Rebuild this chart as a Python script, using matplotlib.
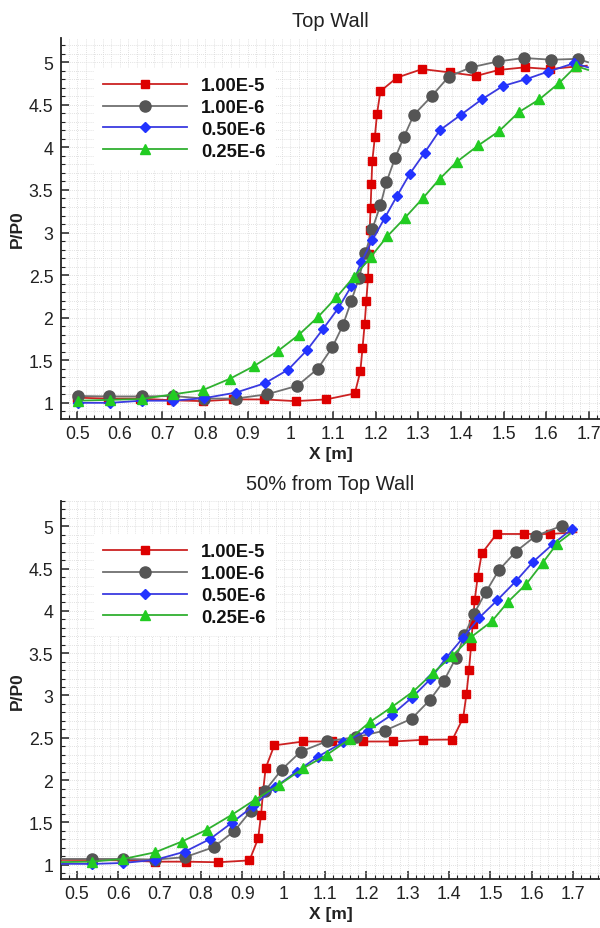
import matplotlib
matplotlib.use("Agg")
import matplotlib.pyplot as plt
from matplotlib.ticker import MultipleLocator, FormatStrFormatter

plt.rcParams['font.family'] = ['Liberation Sans', 'DejaVu Sans']

labels = ["1.00E-5", "1.00E-6", "0.50E-6", "0.25E-6"]

# ---------------- Top Wall ----------------
top_red_x = [0.500, 0.573, 0.648, 0.721, 0.795, 0.866, 0.938, 1.012, 1.084, 1.151, 1.164, 1.169,
             1.174, 1.178, 1.182, 1.184, 1.186, 1.188, 1.190, 1.192, 1.198, 1.203, 1.211, 1.250,
             1.309, 1.375, 1.436, 1.489, 1.549, 1.608, 1.670, 1.695]
top_red_y = [1.06, 1.05, 1.05, 1.03, 1.02, 1.04, 1.04, 1.02, 1.04, 1.11, 1.37, 1.64,
             1.92, 2.20, 2.47, 2.75, 3.03, 3.29, 3.57, 3.84, 4.12, 4.39, 4.66, 4.82,
             4.92, 4.88, 4.84, 4.91, 4.94, 4.92, 4.95, 4.96]

top_gray_x = [0.502, 0.575, 0.651, 0.725, 0.798, 0.872, 0.945, 1.016, 1.064, 1.098, 1.123, 1.143,
              1.161, 1.176, 1.192, 1.211, 1.225, 1.245, 1.266, 1.289, 1.331, 1.371, 1.423, 1.487,
              1.548, 1.612, 1.674, 1.698]
top_gray_y = [1.08, 1.075, 1.075, 1.08, 1.05, 1.05, 1.10, 1.20, 1.40, 1.65, 1.91, 2.20,
              2.47, 2.76, 3.04, 3.32, 3.59, 3.87, 4.12, 4.38, 4.60, 4.83, 4.94, 5.01,
              5.05, 5.03, 5.04, 5.00]

top_blue_x = [0.502, 0.577, 0.651, 0.725, 0.798, 0.872, 0.940, 0.995, 1.039, 1.077, 1.112, 1.143,
              1.166, 1.192, 1.221, 1.250, 1.280, 1.315, 1.350, 1.399, 1.449, 1.498, 1.552, 1.604,
              1.666, 1.698]
top_blue_y = [1.00, 1.00, 1.025, 1.025, 1.055, 1.12, 1.23, 1.39, 1.62, 1.87, 2.11, 2.37,
              2.65, 2.91, 3.17, 3.43, 3.69, 3.94, 4.20, 4.38, 4.565, 4.72, 4.80, 4.89,
              4.99, 4.94]

top_green_x = [0.502, 0.577, 0.651, 0.725, 0.795, 0.859, 0.914, 0.971, 1.020, 1.065, 1.108, 1.149,
               1.188, 1.227, 1.268, 1.310, 1.350, 1.390, 1.441, 1.489, 1.536, 1.584, 1.631, 1.670,
               1.698]
top_green_y = [1.025, 1.035, 1.045, 1.10, 1.15, 1.285, 1.43, 1.61, 1.80, 2.01, 2.24, 2.48,
               2.71, 2.955, 3.17, 3.40, 3.63, 3.83, 4.025, 4.19, 4.415, 4.565, 4.76, 4.955,
               4.91]

# ---------------- 50% from Top Wall ----------------
mid_red_x = [0.460, 0.535, 0.612, 0.689, 0.763, 0.842, 0.917, 0.938, 0.945, 0.950, 0.956, 0.977,
             1.047, 1.116, 1.191, 1.265, 1.337, 1.408, 1.434, 1.442, 1.448, 1.453, 1.457, 1.462,
             1.469, 1.479, 1.515, 1.581, 1.645, 1.708]
mid_red_y = [1.056, 1.055, 1.05, 1.035, 1.035, 1.028, 1.05, 1.31, 1.59, 1.87, 2.14, 2.41,
             2.456, 2.456, 2.456, 2.456, 2.476, 2.479, 2.736, 3.02, 3.30, 3.58, 3.85, 4.13,
             4.40, 4.68, 4.91, 4.91, 4.91, 4.93]

mid_gray_x = [0.460, 0.535, 0.612, 0.689, 0.761, 0.830, 0.880, 0.920, 0.955, 0.995, 1.041, 1.105,
              1.175, 1.245, 1.309, 1.354, 1.387, 1.416, 1.437, 1.460, 1.489, 1.520, 1.561, 1.609,
              1.674, 1.700]
mid_gray_y = [1.067, 1.067, 1.067, 1.06, 1.088, 1.206, 1.395, 1.635, 1.876, 2.124, 2.337, 2.46,
              2.508, 2.586, 2.724, 2.95, 3.17, 3.44, 3.71, 3.967, 4.224, 4.48, 4.70, 4.886,
              5.01, 4.93]

mid_blue_x = [0.460, 0.535, 0.612, 0.689, 0.761, 0.822, 0.874, 0.925, 0.979, 1.031, 1.083, 1.144,
              1.204, 1.261, 1.310, 1.354, 1.392, 1.433, 1.472, 1.517, 1.561, 1.603, 1.652, 1.698]
mid_blue_y = [1.01, 1.008, 1.02, 1.056, 1.154, 1.304, 1.494, 1.688, 1.916, 2.10, 2.278, 2.448,
              2.586, 2.77, 2.975, 3.19, 3.44, 3.68, 3.916, 4.13, 4.35, 4.58, 4.795, 4.973]

mid_green_x = [0.460, 0.535, 0.612, 0.689, 0.753, 0.814, 0.874, 0.930, 0.989, 1.047, 1.104, 1.160,
               1.208, 1.261, 1.313, 1.362, 1.408, 1.453, 1.503, 1.543, 1.587, 1.626, 1.661, 1.692]
mid_green_y = [1.03, 1.035, 1.067, 1.146, 1.272, 1.414, 1.588, 1.767, 1.943, 2.14, 2.298, 2.488,
               2.685, 2.863, 3.047, 3.27, 3.47, 3.69, 3.876, 4.11, 4.32, 4.567, 4.795, 4.91]

styles = [
    dict(color='#cc2222', marker='s', ms=6.0, mfc='#dd0000', mec='#dd0000'),
    dict(color='#707070', marker='o', ms=8.0, mfc='#555555', mec='#555555'),
    dict(color='#3a3ae0', marker='D', ms=5.5, mfc='#2233ff', mec='#2233ff'),
    dict(color='#30b030', marker='^', ms=7.0, mfc='#22cc22', mec='#22cc22'),
]

fig = plt.figure(figsize=(6, 9.29), dpi=100)
ax1 = fig.add_axes([61/600, (929-420)/929, 539/600, 381/929])
ax2 = fig.add_axes([61/600, (929-880)/929, 539/600, 378/929])

top_series = [(top_red_x, top_red_y, slice(0, -1)),
              (top_gray_x, top_gray_y, slice(0, -1)),
              (top_blue_x, top_blue_y, slice(0, -1)),
              (top_green_x, top_green_y, slice(0, -1))]
mid_series = [(mid_red_x, mid_red_y, slice(1, -1)),
              (mid_gray_x, mid_gray_y, slice(1, -1)),
              (mid_blue_x, mid_blue_y, slice(1, None)),
              (mid_green_x, mid_green_y, slice(1, -1))]


def setup(ax, title, xlim, ylim, series, leg_y):
    for (x, y, me), st, lab in zip(series, styles, labels):
        ax.plot(x, y, lw=1.3, markevery=me, label=lab, zorder=3, **st)
    ax.set_xlim(*xlim)
    ax.set_ylim(*ylim)
    ax.xaxis.set_major_locator(MultipleLocator(0.1))
    ax.xaxis.set_minor_locator(MultipleLocator(0.02))
    ax.yaxis.set_major_locator(MultipleLocator(0.5))
    ax.yaxis.set_minor_locator(MultipleLocator(0.1))
    ax.xaxis.set_major_formatter(FormatStrFormatter('%g'))
    ax.yaxis.set_major_formatter(FormatStrFormatter('%g'))
    ax.grid(which='both', color='#d8d8d8', linestyle=(0, (1, 1.5)), lw=0.6, zorder=0)
    ax.set_axisbelow(True)
    for s in ['top', 'right']:
        ax.spines[s].set_visible(False)
    for s in ['left', 'bottom']:
        ax.spines[s].set_linewidth(1.3)
        ax.spines[s].set_color('#222222')
    ax.tick_params(which='major', direction='in', length=6, width=1.1, labelsize=12.8,
                   color='#222222', labelcolor='#222222')
    ax.tick_params(which='minor', direction='in', length=3, width=0.8, color='#222222')
    ax.tick_params(axis='x', which='major', pad=4)
    ax.tick_params(axis='y', which='major', pad=5.5)
    ax.set_title(title, fontsize=14.5, pad=8.5, color='#222222')
    ax.set_xlabel('X [m]', fontsize=12.5, fontweight='bold', labelpad=3.5, color='#222222')
    ax.set_ylabel('P/P0', fontsize=12.5, fontweight='bold', labelpad=3, color='#222222')
    leg = ax.legend(loc='upper left', bbox_to_anchor=(0.0614, leg_y), borderaxespad=0,
                    borderpad=0.5, frameon=True, framealpha=1, edgecolor='white',
                    facecolor='white', fancybox=False,
                    prop=dict(family='Liberation Sans', weight='bold', size=13.2),
                    handlelength=4.55, handletextpad=0.78, labelspacing=0.26)
    for t in leg.get_texts():
        t.set_color('#111111')


setup(ax1, 'Top Wall', (0.462, 1.726), (0.81, 5.285), top_series, 0.921)
setup(ax2, '50% from Top Wall', (0.461, 1.765), (0.83, 5.30), mid_series, 0.912)

fig.savefig('out.png', dpi=100)
